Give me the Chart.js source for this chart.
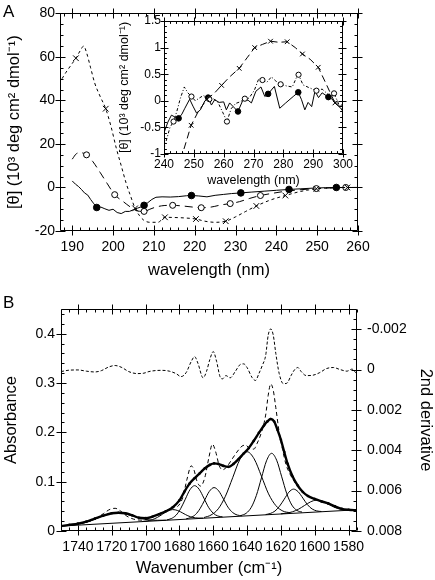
<!DOCTYPE html>
<html lang="en">
<head>
<meta charset="UTF-8">
<title>CD and FTIR spectra</title>
<style>
  body { margin: 0; background: #fff; }
  #wrap { position: relative; width: 435px; height: 580px; font-family: "Liberation Sans", Arial, sans-serif; }
  canvas { position: absolute; left: 0; }
  .panel { position: absolute; left: 3px; font-size: 17px; line-height: 17px; }
</style>
</head>
<body>
<div id="wrap">
  <canvas id="cdMain" width="435" height="290" style="top:0"></canvas>
  <canvas id="cdInset" width="435" height="290" style="top:0"></canvas>
  <canvas id="ftir" width="435" height="290" style="top:290px"></canvas>
  <div class="panel" style="top:3px">A</div>
  <div class="panel" style="top:294px">B</div>
</div>
<script src="https://cdn.jsdelivr.net/npm/chart.js"></script>
<script>
// ---------- panel A, far-UV CD ----------
const solidWl  = [190, 190.8, 191.5, 192.3, 193, 193.8, 194.5, 195.3, 196, 197, 198, 199, 200, 201, 202, 203, 204, 205, 206, 207, 207.6, 208.5, 209.5, 210.5, 212, 214, 216, 218, 219.2, 221, 223, 225, 227, 229, 231.3, 234, 237, 240, 243.1, 246, 249, 252, 254.7, 257, 260];
const solidVal = [3.0, 1.5, 0.5, -1.0, -2.5, -3.5, -5.5, -7.5, -9.2, -9.0, -9.8, -10.5, -10.0, -11.5, -12.0, -11.0, -11.0, -10.2, -9.5, -8.8, -8.2, -7.0, -5.5, -4.5, -4.3, -4.4, -4.2, -3.8, -3.7, -3.9, -4.3, -3.6, -3.2, -2.8, -2.5, -2.1, -1.7, -1.3, -0.9, -0.6, -0.3, -0.1, 0.0, 0, 0];
const solidMarks = [196, 207.6, 219.2, 231.3, 243.1, 254.7];

const openWl  = [190, 191, 192, 193.5, 195, 196.8, 198.5, 200.4, 202.5, 204.5, 206, 207.6, 209, 210.5, 212.5, 214.6, 217, 219.5, 221.6, 224, 226.5, 228.7, 231, 233.5, 236.1, 239, 242, 245, 247.5, 249.8, 252, 254.5, 257, 260];
const openVal = [13, 15.5, 16, 15, 12, 7, 2, -3.3, -6.5, -9.3, -10.8, -11, -10, -9, -8.3, -8.2, -8.5, -9, -9.3, -9, -8, -7.4, -6.5, -5, -3.7, -2.7, -1.8, -1.2, -0.8, -0.5, -0.3, -0.1, 0, 0];
const openMarks = [193.5, 200.4, 207.6, 214.6, 221.6, 228.7, 236.1, 249.8, 257];

const crossWl  = [187.5, 188.5, 190, 190.9, 192, 192.8, 193.5, 194.5, 195.5, 196.8, 198.2, 199.5, 200.8, 202, 203.2, 204.3, 205.4, 206.5, 207.5, 209, 211, 212.7, 215, 217.5, 220.3, 222.5, 225, 227.6, 230, 232.5, 235.1, 238.5, 242.2, 246, 249.8, 253.5, 257.4, 260];
const crossVal = [50, 53, 57, 59.4, 63, 65, 62, 55, 48, 42, 36.2, 28, 18, 10, 2, -4, -9.6, -13, -15, -16, -16, -13.7, -13.8, -14, -14.5, -15.5, -16, -15.5, -13.5, -11, -8.5, -5.8, -3.7, -1.8, -0.6, -0.2, 0, 0];
const crossMarks = [190.9, 198.2, 205.4, 212.7, 220.3, 227.6, 235.1, 242.2, 249.8, 257.4];

// ---------- panel A inset, near-UV CD ----------
const inSolidWl  = [240, 241.3, 242.5, 243.5, 244.9, 246, 246.9, 248.6, 249.7, 250.9, 252.2, 253.7, 254.8, 255.9, 257, 258.5, 260, 260.9, 262, 263.2, 264.8, 266.5, 268.2, 269.3, 270.8, 272.5, 273.8, 274.9, 277, 278.8, 280.8, 283.3, 285, 286.1, 287.2, 288.3, 289.5, 290.6, 291.8, 293, 295.1, 296.7, 299, 300];
const inSolidVal = [-0.6, -0.4, -0.27, -0.3, -0.33, -0.25, -0.15, 0.03, -0.1, -0.23, -0.17, 0.0, 0.06, -0.08, 0.02, -0.03, -0.02, -0.17, -0.04, -0.11, -0.2, 0.02, 0.01, -0.04, 0.18, 0.26, 0.08, 0.13, 0.27, -0.14, -0.04, 0.08, 0.16, 0.02, -0.17, -0.03, -0.11, 0.18, 0.06, 0.15, 0.07, 0.02, -0.11, -0.05];
const inSolidMarks = [244.9, 254.8, 264.8, 274.9, 285, 295.1];

const inOpenWl  = [240, 241, 242, 243.2, 244.3, 245.5, 246.8, 248, 249.2, 250.5, 251.8, 253.2, 255.2, 256.5, 258, 259.8, 261.1, 262.5, 264, 265.5, 267.1, 268.5, 270.3, 271.8, 273, 274.5, 276, 277.5, 279.1, 281, 283, 284.5, 285.1, 286.6, 288.5, 291.1, 293, 295, 297, 299, 300];
const inOpenVal = [-0.9, -0.7, -0.5, -0.39, -0.2, 0.05, 0.26, 0.15, 0.08, 0.0, 0.05, 0.1, 0.03, 0.04, -0.02, -0.23, -0.39, -0.15, -0.05, -0.02, 0.04, 0.05, 0.2, 0.42, 0.39, 0.35, 0.45, 0.37, 0.31, 0.28, 0.26, 0.45, 0.49, 0.3, 0.25, 0.19, 0.22, 0.12, 0.14, -0.12, -0.2];
const inOpenMarks = [243.2, 249.2, 255.2, 261.1, 267.1, 273, 279.1, 285.1, 291.1, 297];

const inCrossWl  = [244.5, 247, 249.1, 251.5, 254.4, 257, 259.3, 262, 265.2, 268, 270.4, 273, 275.7, 278.5, 281.3, 284, 286.4, 289, 291.7, 294.5, 297.3, 300];
const inCrossVal = [-1.3, -0.85, -0.46, -0.2, 0.03, 0.15, 0.29, 0.45, 0.61, 0.82, 1.0, 1.06, 1.12, 1.1, 1.11, 1.0, 0.88, 0.78, 0.63, 0.3, -0.04, -0.18];
const inCrossMarks = [249.1, 254.4, 259.3, 265.2, 270.4, 275.7, 281.3, 286.4, 291.7, 297.3];

// ---------- panel B, FTIR amide I ----------
const fitWn  = [1750, 1745, 1740, 1735, 1730, 1725, 1720, 1716, 1712, 1708, 1704, 1700, 1696, 1692, 1688, 1684, 1680, 1677, 1674, 1671, 1668, 1665, 1662, 1659.5, 1657, 1654, 1651, 1648, 1645, 1642, 1639, 1636, 1633, 1630, 1628, 1626, 1624, 1622, 1620, 1618, 1616, 1613, 1610, 1607, 1604, 1600, 1596, 1592, 1588, 1584, 1580, 1575];
const fitAbs = [0.010, 0.0125, 0.015, 0.019, 0.025, 0.031, 0.036, 0.037, 0.036, 0.032, 0.027, 0.026, 0.029, 0.034, 0.040, 0.048, 0.062, 0.080, 0.096, 0.107, 0.117, 0.127, 0.134, 0.137, 0.136, 0.132, 0.130, 0.136, 0.146, 0.157, 0.168, 0.183, 0.199, 0.214, 0.222, 0.227, 0.222, 0.205, 0.185, 0.160, 0.136, 0.110, 0.092, 0.079, 0.071, 0.065, 0.060, 0.056, 0.050, 0.045, 0.043, 0.042];

const fsdWn  = [1750, 1743, 1736, 1730, 1725, 1721, 1718, 1715, 1711, 1707, 1702, 1697, 1692, 1688, 1684, 1681, 1678, 1675.5, 1673, 1671.5, 1669.5, 1667.5, 1665, 1662.5, 1660.5, 1658.5, 1656.5, 1654.5, 1652, 1649, 1646, 1643, 1641, 1638.5, 1636, 1634, 1631.5, 1629, 1627.5, 1626, 1624.5, 1623, 1621, 1619, 1617, 1615, 1612, 1609, 1605, 1600, 1595, 1590, 1585, 1580, 1575];
const fsdAbs = [0.010, 0.013, 0.017, 0.024, 0.035, 0.044, 0.046, 0.041, 0.030, 0.024, 0.022, 0.028, 0.035, 0.041, 0.047, 0.050, 0.068, 0.105, 0.132, 0.125, 0.100, 0.091, 0.108, 0.150, 0.176, 0.160, 0.133, 0.124, 0.130, 0.145, 0.160, 0.172, 0.174, 0.168, 0.166, 0.178, 0.200, 0.235, 0.275, 0.298, 0.285, 0.250, 0.200, 0.165, 0.135, 0.118, 0.100, 0.085, 0.073, 0.064, 0.058, 0.052, 0.046, 0.043, 0.0425];

const derivWn = [1750, 1745, 1740, 1735, 1730, 1726, 1722, 1718, 1714, 1710, 1705, 1701, 1698, 1694, 1690, 1686, 1682, 1679, 1676, 1673, 1671, 1669, 1666, 1664, 1662, 1660, 1658, 1656, 1654.5, 1652.5, 1650, 1647, 1644, 1642, 1640, 1637, 1635, 1633, 1631, 1629, 1627.5, 1626, 1624.5, 1623, 1621, 1618.5, 1616.5, 1614, 1612, 1610, 1608, 1605, 1601, 1597, 1593, 1589, 1585, 1581, 1578, 1575.5];
const deriv2  = [0.0001, 0.00003, 0.00002, 0.00008, 0.00012, 0.00005, -0.00012, -0.0002, -0.0001, 0.0001, 0.0002, 0.00018, 0.0001, 0.00005, 0.00004, 0.00008, 0.0002, 0.00035, 0.00015, -0.0004, -0.00064, -0.0003, 0.00041, 0.0001, -0.0005, -0.00089, -0.0004, 0.00035, 0.00046, 0.0003, 0.00041, 0.0001, -0.00025, -0.00028, -0.0001, 0.0004, 0.00054, 0.0002, -0.0002, -0.0007, -0.0017, -0.00201, -0.0017, -0.0008, 0.0002, 0.0007, 0.00068, 0.0003, 0.00002, -0.0001, 0.0001, 0.0003, 0.00028, 0.00015, -0.00005, -0.0001, 0.0, 0.00008, -0.00002, 0.00018];

const baseWn  = [1750, 1575];
const baseAbs = [0.010, 0.043];

const comp1Wn  = [1748, 1743, 1738, 1733, 1728, 1723, 1718, 1713, 1708, 1703, 1698, 1693, 1688];
const comp1Abs = [0.0106, 0.0122, 0.0151, 0.0200, 0.0268, 0.0336, 0.0370, 0.0355, 0.0306, 0.0257, 0.0226, 0.0217, 0.0219];
const comp2Wn  = [1702, 1699, 1696, 1693, 1690, 1687, 1684, 1681, 1678, 1675, 1672, 1669, 1666];
const comp2Abs = [0.0193, 0.0205, 0.0230, 0.0276, 0.0340, 0.0404, 0.0434, 0.0415, 0.0363, 0.0309, 0.0275, 0.0262, 0.0260];
const comp3Wn  = [1687.5, 1684.8, 1682, 1679.3, 1676.5, 1673.8, 1671, 1668.3, 1665.5, 1662.8, 1660, 1657.3, 1654.5];
const comp3Abs = [0.0225, 0.0252, 0.0319, 0.0451, 0.0645, 0.0835, 0.0919, 0.0845, 0.0665, 0.0482, 0.0361, 0.0304, 0.0287];
const comp4Wn  = [1676, 1673.3, 1670.5, 1667.8, 1665, 1662.3, 1659.5, 1656.8, 1654, 1651.3, 1648.5, 1645.8, 1643];
const comp4Abs = [0.0247, 0.0272, 0.0333, 0.0453, 0.0630, 0.0803, 0.0880, 0.0814, 0.0651, 0.0484, 0.0374, 0.0324, 0.0309];
const comp5Wn  = [1665.5, 1661.3, 1657, 1652.8, 1648.5, 1644.3, 1640, 1635.8, 1631.5, 1627.3, 1623, 1618.8, 1614.5];
const comp5Abs = [0.0273, 0.0324, 0.0451, 0.0705, 0.1080, 0.1446, 0.1607, 0.1462, 0.1112, 0.0753, 0.0516, 0.0404, 0.0370];
const comp6Wn  = [1643.5, 1640.5, 1637.5, 1634.5, 1631.5, 1628.5, 1625.5, 1622.5, 1619.5, 1616.5, 1613.5, 1610.5, 1607.5];
const comp6Abs = [0.0315, 0.0360, 0.0480, 0.0721, 0.1075, 0.1423, 0.1575, 0.1434, 0.1098, 0.0755, 0.0525, 0.0417, 0.0383];
const comp7Wn  = [1629, 1626.3, 1623.5, 1620.8, 1618, 1615.3, 1612.5, 1609.8, 1607, 1604.3, 1601.5, 1598.8, 1596];
const comp7Abs = [0.0333, 0.0355, 0.0404, 0.0503, 0.0646, 0.0786, 0.0849, 0.0796, 0.0667, 0.0534, 0.0446, 0.0407, 0.0395];
const comp8Wn  = [1620, 1616.5, 1613, 1609.5, 1606, 1602.5, 1599, 1595.5, 1592, 1588.5, 1585, 1581.5, 1578];
const comp8Abs = [0.0348, 0.0363, 0.0391, 0.0443, 0.0518, 0.0590, 0.0625, 0.0603, 0.0544, 0.0483, 0.0444, 0.0429, 0.0427];

const thetaTitle = '[\u03b8] (10\u00b3 deg cm\u00b2 dmol\u207b\u00b9)';

Chart.defaults.font.family = '"Liberation Sans", Arial, Helvetica, sans-serif';
Chart.defaults.color = '#000';

const xy = (xs, ys) => xs.map((x, i) => ({x, y: ys[i]}));
const marker = (xs, marks, r) => c => marks.includes(xs[c.dataIndex]) ? r : 0;
const fmt = v => String(+v.toFixed(6));

// box + inward ticks (majors cross the axis), drawn with the chart's own scales
const frameTicks = {
  id: 'frameTicks',
  afterDatasetsDraw(chart, args, opts) {
    const {ctx, chartArea: a} = chart;
    const L = Math.round(a.left) + 0.5, R = Math.round(a.right) - 0.5;
    const T = Math.round(a.top) + 0.5, B = Math.round(a.bottom) - 0.5;
    ctx.save();
    ctx.strokeStyle = '#000';
    ctx.lineWidth = 1;
    ctx.setLineDash([]);
    ctx.beginPath();
    ctx.rect(L, T, R - L, B - T);
    for (const ax of opts.axes) {
      const sc = chart.scales[ax.id];
      const start = Math.ceil(sc.min / ax.minor - 1e-6);
      for (let k = start; k * ax.minor <= sc.max + 1e-9; k++) {
        const v = k * ax.minor;
        const q = v / ax.major;
        const major = Math.abs(q - Math.round(q)) < 1e-6;
        const inn = major ? ax.len : ax.len * 0.6;
        const out = major ? ax.len : 0;
        const p = Math.round(sc.getPixelForValue(v)) + 0.5;
        for (const side of ax.sides) {
          if (side === 'bottom') { ctx.moveTo(p, B + out); ctx.lineTo(p, B - inn); }
          if (side === 'top')    { ctx.moveTo(p, T - out); ctx.lineTo(p, T + inn); }
          if (side === 'left')   { ctx.moveTo(L - out, p); ctx.lineTo(L + inn, p); }
          if (side === 'right')  { ctx.moveTo(R + out, p); ctx.lineTo(R - inn, p); }
        }
      }
    }
    ctx.stroke();
    ctx.restore();
  }
};

function axis(o) {
  return {
    type: 'linear', position: o.pos, min: o.min, max: o.max, reverse: !!o.reverse,
    grid: {display: false, drawTicks: false},
    border: {display: false},
    ticks: {stepSize: o.step, includeBounds: false, padding: o.pad, font: {size: o.size},
            color: '#000', maxRotation: 0, autoSkip: false, callback: fmt},
    title: {display: true, text: o.title, font: {size: o.tsize}, padding: o.tpad, color: '#000'},
    afterFit: s => { if (s.isHorizontal()) s.height = o.extent; else s.width = o.extent; }
  };
}

function line(xs, ys, extra) {
  return Object.assign({
    data: xy(xs, ys), borderColor: '#000', borderWidth: 1, pointRadius: 0,
    pointBorderColor: '#000', pointBackgroundColor: '#000', pointBorderWidth: 1, tension: 0
  }, extra);
}

const base = {
  responsive: false, animation: false, devicePixelRatio: 1, parsing: true,
  events: [],
  plugins: {legend: {display: false}, tooltip: {enabled: false}}
};

// main CD panel
new Chart(document.getElementById('cdMain'), {
  type: 'line',
  data: {datasets: [
    line(crossWl, crossVal, {borderDash: [3, 3], cubicInterpolationMode: 'monotone',
      pointStyle: 'crossRot', pointRadius: marker(crossWl, crossMarks, 4)}),
    line(openWl, openVal, {borderDash: [8, 5], cubicInterpolationMode: 'monotone',
      pointStyle: 'circle', pointBackgroundColor: '#fff', pointRadius: marker(openWl, openMarks, 3)}),
    line(solidWl, solidVal, {pointStyle: 'circle', pointRadius: marker(solidWl, solidMarks, 3.3)})
  ]},
  options: Object.assign({}, base, {
    layout: {padding: {left: 0, top: 8, right: 77, bottom: 0}},
    scales: {
      x: axis({pos: 'bottom', min: 187, max: 260, step: 10, pad: 8, size: 14,
               title: 'wavelength (nm)', tsize: 16.5, tpad: {top: 0, bottom: 10}, extent: 59}),
      y: axis({pos: 'left', min: -20, max: 80, step: 20, pad: 5, size: 14,
               title: thetaTitle, tsize: 16.5, tpad: {top: 5, bottom: 0}, extent: 60})
    },
    plugins: Object.assign({}, base.plugins, {frameTicks: {axes: [
      {id: 'x', major: 10, minor: 2, len: 5, sides: ['bottom', 'top']},
      {id: 'y', major: 20, minor: 5, len: 5, sides: ['left', 'right']}
    ]}})
  }),
  plugins: [frameTicks]
});

// inset
new Chart(document.getElementById('cdInset'), {
  type: 'line',
  data: {datasets: [
    line(inCrossWl, inCrossVal, {borderDash: [7, 4], pointStyle: 'crossRot',
      pointRadius: marker(inCrossWl, inCrossMarks, 3.3)}),
    line(inOpenWl, inOpenVal, {borderDash: [3, 2, 1, 2], pointStyle: 'circle', pointBackgroundColor: '#fff',
      pointRadius: marker(inOpenWl, inOpenMarks, 2.6)}),
    line(inSolidWl, inSolidVal, {pointStyle: 'circle', pointRadius: marker(inSolidWl, inSolidMarks, 2.8)})
  ]},
  options: Object.assign({}, base, {
    layout: {padding: {left: 0, top: 21, right: 92, bottom: 0}},
    scales: {
      x: axis({pos: 'bottom', min: 240, max: 300, step: 10, pad: 3, size: 12,
               title: 'wavelength (nm)', tsize: 12.5, tpad: {top: 0, bottom: 102}, extent: 136}),
      y: axis({pos: 'left', min: -1, max: 1.5, step: 0.5, pad: 3, size: 12,
               title: thetaTitle, tsize: 12.5, tpad: {top: 117, bottom: 0}, extent: 164})
    },
    plugins: Object.assign({}, base.plugins, {frameTicks: {axes: [
      {id: 'x', major: 10, minor: 2, len: 4, sides: ['bottom', 'top']},
      {id: 'y', major: 0.5, minor: 0.1, len: 4, sides: ['left', 'right']}
    ]}})
  }),
  plugins: [frameTicks]
});

// FTIR panel
const thin = (xs, ys) => line(xs, ys, {cubicInterpolationMode: 'monotone'});
new Chart(document.getElementById('ftir'), {
  type: 'line',
  data: {datasets: [
    thin(comp1Wn, comp1Abs), thin(comp2Wn, comp2Abs), thin(comp3Wn, comp3Abs), thin(comp4Wn, comp4Abs),
    thin(comp5Wn, comp5Abs), thin(comp6Wn, comp6Abs), thin(comp7Wn, comp7Abs), thin(comp8Wn, comp8Abs),
    line(baseWn, baseAbs, {}),
    line(fitWn, fitAbs, {borderWidth: 2.4, cubicInterpolationMode: 'monotone', pointRadius: 1.3, pointBorderWidth: 0}),
    line(fsdWn, fsdAbs, {borderDash: [4, 3], cubicInterpolationMode: 'monotone'}),
    line(derivWn, deriv2, {yAxisID: 'y2', borderDash: [3, 2], cubicInterpolationMode: 'monotone'})
  ]},
  options: Object.assign({}, base, {
    layout: {padding: {left: 0, top: 19, right: 0, bottom: 0}},
    scales: {
      x: axis({pos: 'bottom', min: 1575, max: 1750, step: 20, reverse: true, pad: 8, size: 14,
               title: 'Wavenumber (cm\u207b\u00b9)', tsize: 16.5, tpad: {top: 0, bottom: 2}, extent: 49}),
      y: axis({pos: 'left', min: 0, max: 0.45, step: 0.1, pad: 6, size: 14,
               title: 'Absorbance', tsize: 16.5, tpad: {top: 2, bottom: 0}, extent: 61}),
      y2: axis({pos: 'right', min: -0.003, max: 0.008, step: 0.002, reverse: true, pad: 10, size: 14,
               title: '2nd derivative', tsize: 16.5, tpad: {top: 0, bottom: 0}, extent: 78})
    },
    plugins: Object.assign({}, base.plugins, {frameTicks: {axes: [
      {id: 'x', major: 20, minor: 5, len: 5, sides: ['bottom', 'top']},
      {id: 'y', major: 0.1, minor: 0.02, len: 5, sides: ['left']},
      {id: 'y2', major: 0.002, minor: 0.0005, len: 5, sides: ['right']}
    ]}})
  }),
  plugins: [frameTicks]
});
</script>
</body>
</html>
